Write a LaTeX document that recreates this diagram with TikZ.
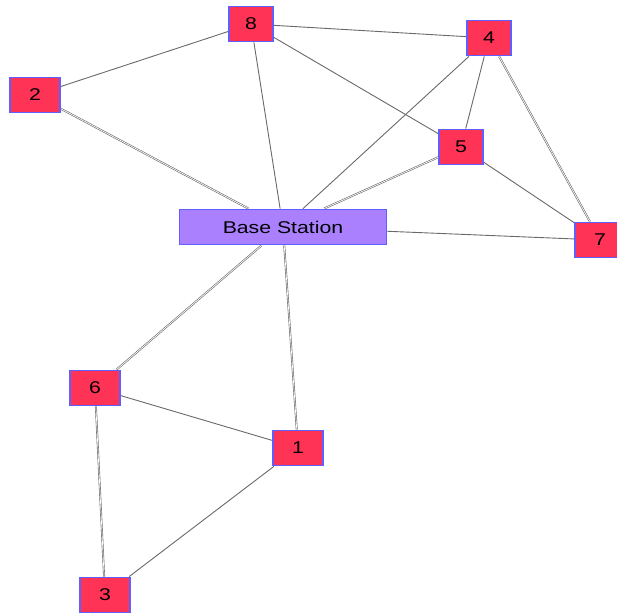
\documentclass[tikz,border=0pt]{standalone}
\usepackage{fontspec}
\newfontfamily\lbl[FakeStretch=1.25]{Liberation Sans}
\definecolor{nodered}{RGB}{255,51,85}
\definecolor{nodeblue}{RGB}{95,95,255}
\definecolor{basepurple}{RGB}{170,128,255}
\definecolor{edgegray}{RGB}{105,105,105}
\tikzset{
  sensor/.style={draw=nodeblue, fill=nodered, line width=1.8pt, minimum height=35pt, inner sep=0pt, font=\lbl\fontsize{17}{18}\selectfont},
  basebox/.style={draw=nodeblue, fill=basepurple, line width=1.8pt, minimum width=207pt, minimum height=35pt, inner sep=0pt, font=\lbl\fontsize{17}{18}\selectfont},
  edge/.style={draw=edgegray, line width=0.9pt},
  dbl/.style={draw=edgegray, double=white, double distance=0.7pt, line width=0.6pt}
}
\begin{document}
\begin{tikzpicture}[x=1pt,y=-1pt]
\useasboundingbox (0,0) rectangle (617,612);
\node[sensor, minimum width=44pt] (n8) at (251,24) {8};
\node[sensor, minimum width=44pt] (n4) at (489,38) {4};
\node[sensor, minimum width=50pt] (n2) at (35,95) {2};
\node[sensor, minimum width=44pt] (n5) at (461,147) {5};
\node[basebox] (bs) at (283,227) {Base Station};
\node[sensor, minimum width=50pt] (n7) at (600,240) {7};
\node[sensor, minimum width=50pt] (n6) at (95,388) {6};
\node[sensor, minimum width=50pt] (n1) at (298,448) {1};
\node[sensor, minimum width=50pt] (n3) at (105,595) {3};
\draw[edge] (n2) -- (n8);
\draw[dbl] (n2) -- (bs);
\draw[edge] (n8) -- (bs);
\draw[edge] (n8) -- (n4);
\draw[edge] (n8) -- (n5);
\draw[edge] (n4) -- (bs);
\draw[edge] (n4) -- (n5);
\draw[dbl] (n4) -- (n7);
\draw[dbl] (n5) -- (bs);
\draw[edge] (n5) -- (n7);
\draw[edge] (bs) -- (n7);
\draw[dbl] (bs) -- (n6);
\draw[dbl] (bs) -- (n1);
\draw[edge] (n6) -- (n1);
\draw[dbl] (n6) -- (n3);
\draw[edge] (n1) -- (n3);
\end{tikzpicture}
\end{document}
